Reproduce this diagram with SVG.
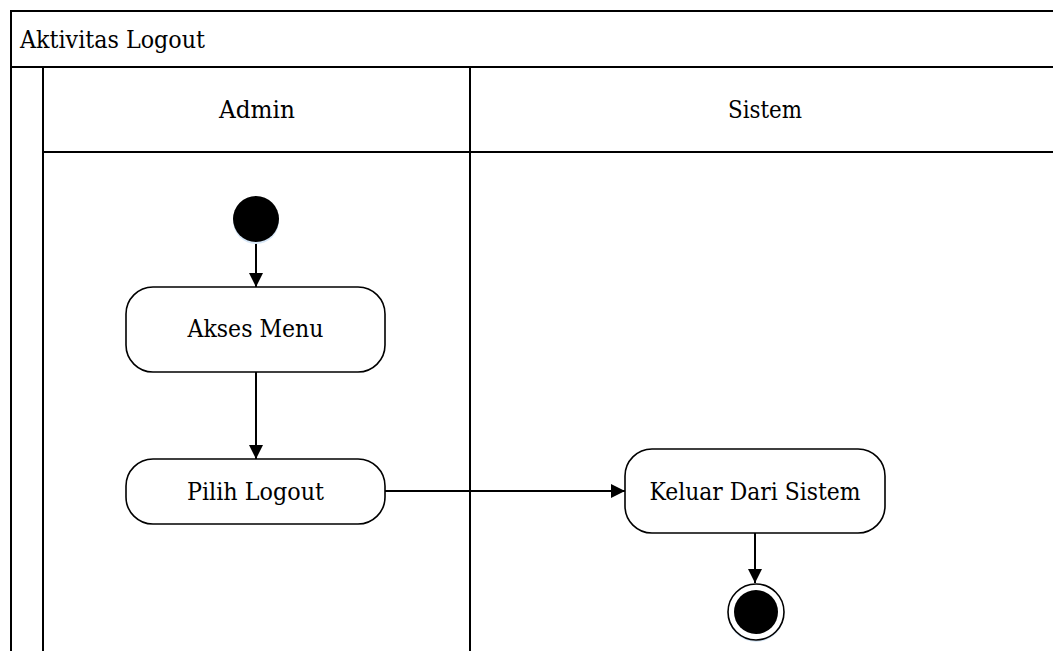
<svg xmlns="http://www.w3.org/2000/svg" width="1053" height="651" viewBox="0 0 1053 651">
<style>
.ln{stroke:#000;stroke-width:2;fill:none}
.box{fill:#fff;stroke:#000;stroke-width:1.6}
text{font-family:'DejaVu Serif','Liberation Serif',serif;font-size:24px;fill:#000}
.c{text-anchor:middle}
</style>
<defs>
<marker id="ah" viewBox="0 0 14 14" refX="14" refY="7" markerWidth="14" markerHeight="14" markerUnits="userSpaceOnUse" orient="auto">
<path d="M0,0 L14,7 L0,14 Z" fill="#000"/>
</marker>
</defs>
<rect width="1053" height="651" fill="#fff"/>
<g id="frame">
<path class="ln" d="M11,651 V11 H1053 M11,67 H1053 M43,67 V651 M43,152 H1053 M470,67 V651"/>
<text x="20" y="48" textLength="185" lengthAdjust="spacingAndGlyphs">Aktivitas Logout</text>
<text class="c" x="257" y="118" textLength="76" lengthAdjust="spacingAndGlyphs">Admin</text>
<text class="c" x="765" y="118" textLength="74" lengthAdjust="spacingAndGlyphs">Sistem</text>
</g>
<g id="connectors">
<line class="ln" x1="256" y1="242" x2="256" y2="287" marker-end="url(#ah)"/>
<line class="ln" x1="256" y1="372" x2="256" y2="459" marker-end="url(#ah)"/>
<line class="ln" x1="385" y1="491" x2="625" y2="491" marker-end="url(#ah)"/>
<line class="ln" x1="755" y1="533" x2="755" y2="583" marker-end="url(#ah)"/>
</g>
<g id="start">
<circle cx="256" cy="221" r="23" fill="#d6e6f6"/>
<circle cx="256" cy="219" r="23" fill="#000"/>
</g>
<g id="akses-menu">
<rect class="box" x="126" y="287" width="259" height="85" rx="27"/>
<text class="c" x="255.5" y="337" textLength="136" lengthAdjust="spacingAndGlyphs">Akses Menu</text>
</g>
<g id="pilih-logout">
<rect class="box" x="126" y="459" width="259" height="65" rx="27"/>
<text class="c" x="255.5" y="500" textLength="137" lengthAdjust="spacingAndGlyphs">Pilih Logout</text>
</g>
<g id="keluar">
<rect class="box" x="625" y="449" width="260" height="84" rx="27"/>
<text class="c" x="755" y="500" textLength="211" lengthAdjust="spacingAndGlyphs">Keluar Dari Sistem</text>
</g>
<g id="end">
<circle cx="756" cy="614" r="28" fill="#d6e6f6"/>
<circle cx="756" cy="612" r="28" fill="#fff" stroke="#000" stroke-width="1.6"/>
<circle cx="756" cy="612" r="22" fill="#000"/>
</g>
</svg>
